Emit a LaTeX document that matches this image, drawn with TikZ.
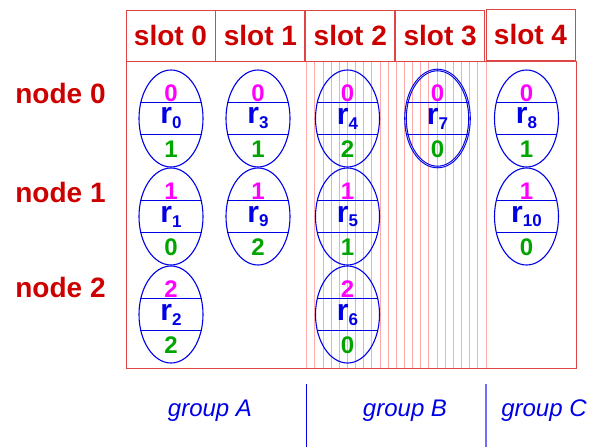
\documentclass[tikz,border=0pt]{standalone}
\usepackage{fontspec}
\setmainfont{Liberation Sans}
\usetikzlibrary{shapes,positioning}

\definecolor{slotred}{RGB}{204,0,0}
\definecolor{boxred}{RGB}{222,70,70}
\definecolor{hatchred}{RGB}{255,170,170}
\definecolor{reqblue}{RGB}{0,0,230}
\definecolor{topmag}{RGB}{255,0,255}
\definecolor{botgreen}{RGB}{0,165,0}
\definecolor{seplight}{RGB}{110,110,255}

% one request: name, x, y, top number, index, bottom number
\newcommand{\request}[7][]{%
	\node (#2) [req,#1] at (#3,#4) {};
	\draw [chord] ([shift={(-30.6,-16)}]#2.center) -- ++(61.2,0);
	\draw [chord] ([shift={(-30.6,16)}]#2.center) -- ++(61.2,0);
	\node (#2top) [topnum] at ([shift={(0,-25)}]#2.center) {#5};
	\node (#2lab) [reqname] at (#2.center) {r\raisebox{-5pt}{\fontsize{17}{17}\selectfont #6}};
	\node (#2bot) [botnum] at ([shift={(0,31)}]#2.center) {#7};
}

\begin{document}
\begin{tikzpicture}[x=1pt,y=-1pt,
	slotbox/.style={draw=boxred, line width=0.9pt, minimum width=89pt, minimum height=51pt, inner sep=0pt, text=slotred, font=\fontsize{28}{28}\selectfont\bfseries},
	rowlabel/.style={text=slotred, font=\fontsize{28}{28}\selectfont\bfseries},
	grouplabel/.style={text=reqblue, font=\fontsize{24}{24}\selectfont\itshape},
	hatch/.style={draw=hatchred, line width=0.6pt},
	req/.style={ellipse, draw=reqblue, line width=1.1pt, minimum width=64pt, minimum height=97pt, inner sep=0pt, outer sep=0pt},
	chord/.style={draw=reqblue, line width=0.8pt},
	topnum/.style={text=topmag, inner sep=0pt, font=\fontsize{24}{24}\selectfont\bfseries},
	botnum/.style={text=botgreen, inner sep=0pt, font=\fontsize{24}{24}\selectfont\bfseries},
	reqname/.style={text=reqblue, inner sep=0pt, font=\fontsize{30}{30}\selectfont\bfseries}]

	\useasboundingbox (0,0) rectangle (593,447);

	% hatched area behind slot 2 and slot 3
	\foreach \i in {0,...,22}
		\draw [hatch] (306.5+\i*8.15,61) -- ++(0,307);

	% slots
	\node (slot0) [slotbox] at (170.5,35.5) {slot 0};
	\node (slot1) [slotbox, right=0pt of slot0] {slot 1};
	\node (slot2) [slotbox, right=0pt of slot1] {slot 2};
	\node (slot3) [slotbox, right=0pt of slot2] {slot 3};
	\node (slot4) [slotbox] at (530.5,34.5) {slot 4};
	\node (frame) [draw=boxred, line width=0.9pt, minimum width=450pt, minimum height=307pt, inner sep=0pt] at (351,214.5) {};

	% nodes
	\node (node0) [rowlabel] at (60.5,93) {node 0};
	\node (node1) [rowlabel] at (60.5,192) {node 1};
	\node (node2) [rowlabel] at (60.5,287) {node 2};

	% requests
	\request{r0}{171}{118.5}{0}{0}{1}
	\request{r1}{171}{216.5}{1}{1}{0}
	\request{r2}{171}{314.5}{2}{2}{2}
	\request{r3}{258}{118.5}{0}{3}{1}
	\request{r9}{258}{216.5}{1}{9}{2}
	\request{r4}{347.5}{118.5}{0}{4}{2}
	\request{r5}{347.5}{216.5}{1}{5}{1}
	\request{r6}{347.5}{314.5}{2}{6}{0}
	\request[double=white, double distance=0.4pt, line width=1.1pt]{r7}{437.5}{118.5}{0}{7}{0}
	\request{r8}{526.5}{118.5}{0}{8}{1}
	\request{r10}{526.5}{216.5}{1}{10}{0}

	% groups
	\node (groupA) [grouplabel] at (210,411) {group A};
	\node (groupB) [grouplabel] at (405,411) {group B};
	\node (groupC) [grouplabel] at (544,411) {group C};
	\draw [reqblue, line width=0.9pt] (306,384) -- (306,447);
	\draw [seplight, line width=1.2pt] (486,384) -- (486,447);
\end{tikzpicture}
\end{document}
